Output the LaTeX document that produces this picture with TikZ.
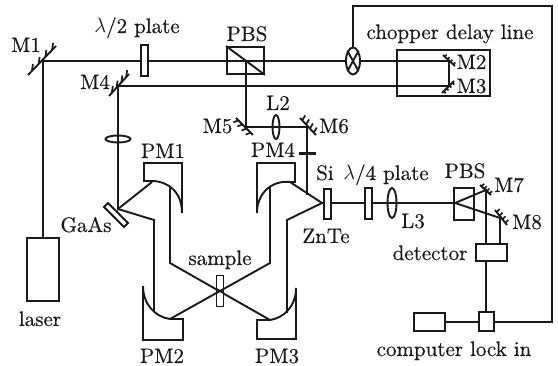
\documentclass[tikz,border=0pt]{standalone}
\usepackage{fontspec}
\setmainfont{lmroman10-regular}[Extension=.otf,RawFeature={embolden=0.4}]
\usetikzlibrary{calc,shapes.geometric}
\definecolor{ink}{HTML}{1A1A1A}
\tikzset{
  optic/.style={draw=ink,line width=1.9pt,fill=white,inner sep=0pt,minimum size=0pt},
  beam/.style={draw=ink,line width=1.9pt,line join=miter},
  lab/.style={inner sep=0pt,text=ink,font=\fontsize{21}{23}\selectfont,anchor=base}
}
% mirror: end a, end b, hatch offset
\newcommand{\mirrorhatch}[3]{%
  \draw[beam] #1 -- #2;
  \foreach \t in {0.14,0.38,0.62,0.86}
    \draw[ink,line width=1.7pt] ($#1!\t!#2$) -- ++#3;
}
\begin{document}
\begin{tikzpicture}[x=1pt,y=-1pt]
\useasboundingbox (0,0) rectangle (558,366);
\fill[white] (0,0) rectangle (558,366);
% junction coordinates
\coordinate (m1) at (43,61);
\coordinate (m2) at (449,61);
\coordinate (m3) at (449,86);
\coordinate (m4) at (118,86);
\coordinate (m5) at (246,127);
\coordinate (m6) at (307,127);
\coordinate (m7) at (486,190);
\coordinate (m8) at (500,218);
\coordinate (gaas) at (118,209);
\coordinate (pm1a) at (152,182);
\coordinate (pm1b) at (170,187);
\coordinate (pm2a) at (154,311);
\coordinate (pm2b) at (170,319);
\coordinate (pm3a) at (270,320);
\coordinate (pm3b) at (287,313);
\coordinate (pm4a) at (270,186);
\coordinate (pm4b) at (290,182);
\coordinate (smp) at (220,291);
\coordinate (znte) at (322,203);
\coordinate (bs) at (455,203);
\coordinate (b1) at (154,220);
\coordinate (b2) at (170,263);
\coordinate (b3) at (270,263);
\coordinate (b4) at (287,220);
\coordinate (t1) at (353,6);
\coordinate (t2) at (552,6);
\coordinate (t3) at (552,322);
\coordinate (si) at (307,195);
% beams
\draw[beam] (43,238) -- (m1) -- (m2) -- (m3) -- (m4) -- (gaas) -- (pm1a);
\draw[beam] (gaas) -- (b1) -- (pm2a);
\draw[beam] (pm1b) -- (b2) -- (pm3a);
\draw[beam] (pm2b) -- (b3) -- (pm4a);
\draw[beam] (pm4b) -- (znte) -- (b4) -- (pm3b);
\draw[beam] (246,61) -- (m5) -- (m6) -- (si);
\draw[beam] (znte) -- (bs) -- (m7) -- (486,244);
\draw[beam] (bs) -- (m8) -- (500,244);
\draw[beam] (486,261) -- (486,312);
\draw[beam] (445,322) -- (479,322);
\draw[beam] (494,322) -- (t3) -- (t2) -- (t1) -- (353,48);
% boxes
\node[optic,minimum width=32pt,minimum height=63pt] (laser) at (43,269.5) {};
\node[optic,minimum width=7pt,minimum height=31pt] (hwp) at (144.5,60.5) {};
\node[optic,fill=none,minimum width=37pt,minimum height=27pt] (pbs1) at (245.5,60.5) {};
\draw[beam] (pbs1.north west) -- (pbs1.south east);
\node[optic,fill=none,minimum width=93pt,minimum height=46pt] (delay) at (443.5,73) {};
\node[optic,ellipse,minimum width=14pt,minimum height=27pt] (chop) at (353,61) {};
\node[optic,minimum width=7pt,minimum height=31pt] (smpl) at (220,291) {};
\node[optic,minimum width=7pt,minimum height=30pt] (zn) at (327.5,204) {};
\node[optic,minimum width=7pt,minimum height=31pt] (qwp) at (368.5,203.5) {};
\node[optic,fill=none,minimum width=20pt,minimum height=32pt] (pbs2) at (464,204) {};
\node[optic,minimum width=31pt,minimum height=17pt] (det) at (491.5,252.5) {};
\node[optic,minimum width=15pt,minimum height=19pt] (lock) at (486.5,321.5) {};
\node[optic,minimum width=31pt,minimum height=18pt] (comp) at (429.5,322) {};
% sample X redraw
\draw[beam] (smp) ++(-3.5,-2) -- ++(7,4);
\draw[beam] (smp) ++(-3.5,2) -- ++(7,-4);
% chopper cross
\draw[beam] (chop.north west) -- (chop.south east);
\draw[beam] (chop.north east) -- (chop.south west);
% GaAs plate
\draw[beam,fill=white] (104,207) -- (108,203) -- (128,223) -- (124,227) -- cycle;
% lenses
\node[optic,ellipse,fill=none,minimum width=25pt,minimum height=7pt] (l1) at (118,139) {};
\node[optic,ellipse,fill=none,minimum width=7pt,minimum height=24pt] (l2) at (276,127) {};
\node[optic,ellipse,fill=none,minimum width=9pt,minimum height=30pt] (l3) at (392,203) {};
% Si bar
\draw[ink,line width=3pt] (299,154) -- (316,154);
% parabolic mirrors
\draw[beam] (152,181) -- (144,181) -- (144,163) -- (182,163) -- (182,213);
\draw[beam] (152,181) .. controls (168,181) and (182,192) .. (182,213);
\draw[beam] (290,182) -- (295,182) -- (295,163) -- (257,163) -- (257,213);
\draw[beam] (290,182) .. controls (272,180) and (257,193) .. (257,213);
\draw[beam] (170,319) -- (183,319) -- (183,340) -- (143,340) -- (143,286);
\draw[beam] (170,319) .. controls (155,317) and (143,304) .. (143,286);
\draw[beam] (270,320) -- (257,320) -- (257,339) -- (296,339) -- (296,288);
\draw[beam] (270,320) .. controls (284,318) and (296,306) .. (296,288);
% mirrors
\mirrorhatch{(28,75)}{(56,46)}{(1,-7)}
\mirrorhatch{(109,96)}{(129,74)}{(1,-7)}
\mirrorhatch{(236,118)}{(253,135)}{(-5,2)}
\mirrorhatch{(300,118)}{(316,135)}{(3,-5)}
\mirrorhatch{(443,55)}{(455,66)}{(2,-2)}
\mirrorhatch{(442,93)}{(454,81)}{(2,2)}
\mirrorhatch{(480,185)}{(491,195)}{(2.5,-2.5)}
\mirrorhatch{(495,210)}{(507,225)}{(3,-3)}
% labels
\node[lab] (tm1) at (26,52) {M1};
\node[lab] (thw) at (137,33) {$\lambda$/2 plate};
\node[lab] (tpbs) at (247,41) {PBS};
\node[lab] (tch) at (450,39) {chopper delay line};
\node[lab] (tm2) at (471.5,69) {M2};
\node[lab] (tm3) at (471.5,93) {M3};
\node[lab] (tm4) at (95,89) {M4};
\node[lab] (tl2) at (278,110) {L2};
\node[lab] (tm5) at (217.5,133) {M5};
\node[lab] (tm6) at (334,133) {M6};
\node[lab] (tpm1) at (163,158) {PM1};
\node[lab] (tpm4) at (273,157) {PM4};
\node[lab] (tsi) at (325,180) {Si};
\node[lab] (tqw) at (386,180) {$\lambda$/4 plate};
\node[lab] (tpb2) at (465,178) {PBS};
\node[lab] (tm7) at (509,192) {M7};
\node[lab] (tm8) at (527,229) {M8};
\node[lab] (tgaa) at (86,232) {GaAs};
\node[lab] (tl3) at (413,228) {L3};
\node[lab] (tzn) at (326,243) {ZnTe};
\node[lab] (tdet) at (430,260) {detector};
\node[lab] (tsmp) at (220,265) {sample};
\node[lab] (tlas) at (40,326) {laser};
\node[lab] (tpm2) at (162,363) {PM2};
\node[lab] (tpm3) at (277,363) {PM3};
\node[lab] (tcom) at (454,356) {computer lock in};
\end{tikzpicture}
\end{document}
